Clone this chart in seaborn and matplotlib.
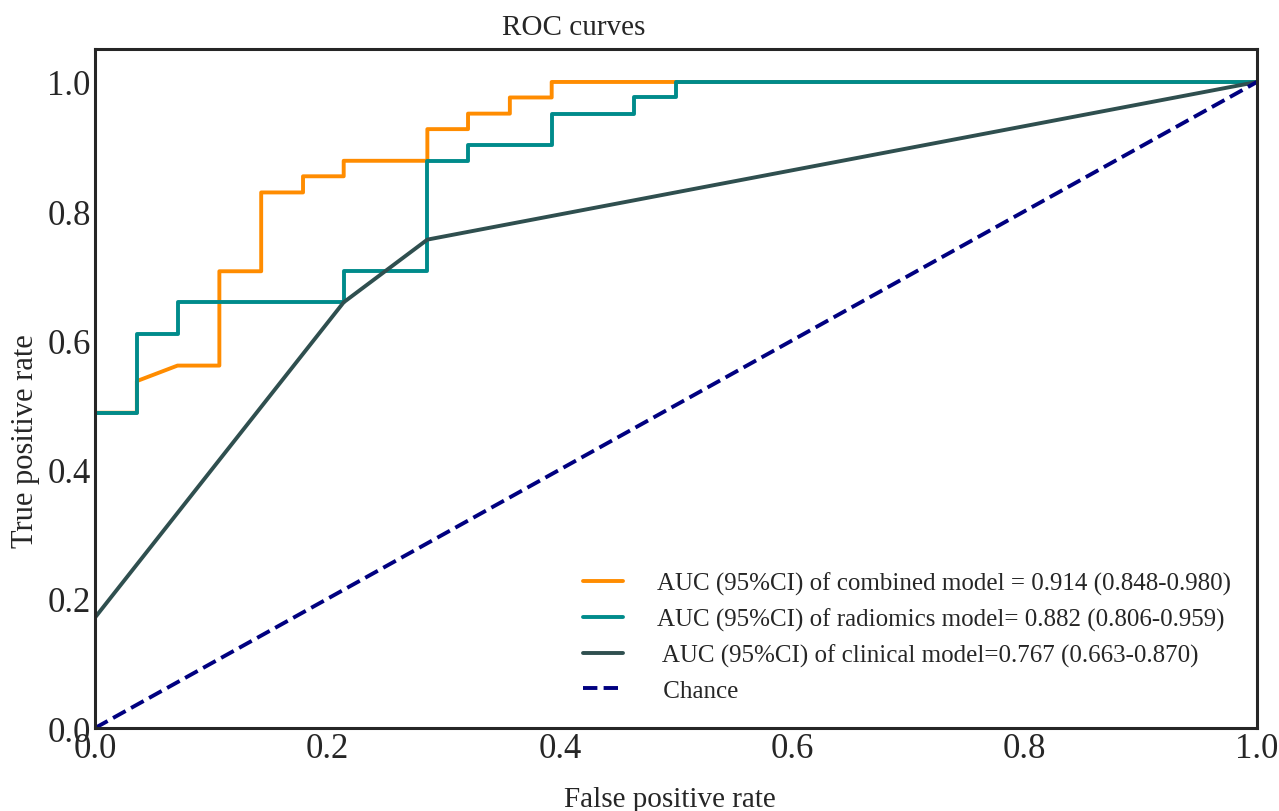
import pandas as pd
import matplotlib
matplotlib.use("Agg")
import matplotlib.pyplot as plt
import seaborn as sns

# ROC points
combined_fpr = [0.000, 0.000, 0.036, 0.036, 0.071, 0.107, 0.107, 0.143, 0.143, 0.179, 0.179,
                0.214, 0.214, 0.286, 0.286, 0.321, 0.321, 0.357, 0.357, 0.393, 0.393, 1.000]
combined_tpr = [0.000, 0.488, 0.488, 0.537, 0.561, 0.561, 0.707, 0.707, 0.829, 0.829, 0.854,
                0.854, 0.878, 0.878, 0.927, 0.927, 0.951, 0.951, 0.976, 0.976, 1.000, 1.000]

radiomics_fpr = [0.000, 0.000, 0.036, 0.036, 0.071, 0.071, 0.214, 0.214, 0.286, 0.286,
                 0.321, 0.321, 0.393, 0.393, 0.464, 0.464, 0.500, 0.500, 1.000]
radiomics_tpr = [0.000, 0.488, 0.488, 0.610, 0.610, 0.659, 0.659, 0.707, 0.707, 0.878,
                 0.878, 0.902, 0.902, 0.951, 0.951, 0.976, 0.976, 1.000, 1.000]

clinical_fpr = [0.000, 0.000, 0.214, 0.286, 1.000]
clinical_tpr = [0.000, 0.171, 0.659, 0.756, 1.000]

chance_fpr = [0.0, 1.0]
chance_tpr = [0.0, 1.0]

labels = ['AUC (95%CI) of combined model = 0.914 (0.848-0.980)',
          'AUC (95%CI) of radiomics model= 0.882 (0.806-0.959)',
          ' AUC (95%CI) of clinical model=0.767 (0.663-0.870)',
          ' Chance']
colors = ['darkorange', 'darkcyan', 'darkslategray', 'navy']

sns.set_style('white')
plt.rcParams['font.family'] = ['Liberation Serif', 'DejaVu Serif']

fig = plt.figure(figsize=(12.79, 8.12), dpi=100)
ax = fig.add_axes([0.0743, 0.1022, 0.9085, 0.8362])

curves = [(combined_fpr, combined_tpr), (radiomics_fpr, radiomics_tpr),
          (clinical_fpr, clinical_tpr), (chance_fpr, chance_tpr)]
for (fpr, tpr), lab, col in zip(curves, labels, colors):
    df = pd.DataFrame({'fpr': fpr, 'tpr': tpr})
    sns.lineplot(data=df, x='fpr', y='tpr', ax=ax, estimator=None, sort=False,
                 color=col, lw=2.8, label=lab,
                 linestyle='--' if lab.strip() == 'Chance' else '-')

ax.set_xlim(0, 1)
ax.set_ylim(0, 1.051)
ax.set_xticks([0.0, 0.2, 0.4, 0.6, 0.8, 1.0])
ax.set_yticks([0.0, 0.2, 0.4, 0.6, 0.8, 1.0])
ax.tick_params(labelsize=25, pad=3, length=0, labelcolor='#262626')
for s in ax.spines.values():
    s.set_linewidth(2.2)
    s.set_color('#262626')

ax.set_title('ROC curves', fontsize=21, x=0.412, pad=11)
ax.set_xlabel('False positive rate', fontsize=21)
ax.set_ylabel('True positive rate', fontsize=22)
ax.xaxis.set_label_coords(0.495, -0.085)
ax.yaxis.set_label_coords(-0.047, 0.424)

ax.legend(loc='lower right', bbox_to_anchor=(0.997, 0.005), frameon=False, fontsize=18,
          handlelength=1.6, handletextpad=1.35, labelspacing=0.5)

fig.savefig('out.png', dpi=100)
